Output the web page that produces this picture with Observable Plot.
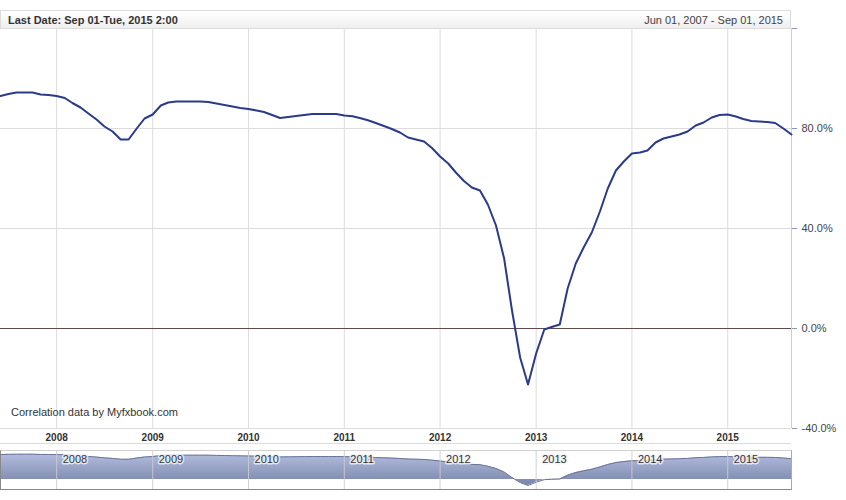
<!DOCTYPE html>
<html>
<head>
<meta charset="utf-8">
<script src="https://cdn.jsdelivr.net/npm/d3@7"></script>
<script src="https://cdn.jsdelivr.net/npm/@observablehq/plot@0.6"></script>
<style>
  html, body { margin: 0; padding: 0; background: #fff; }
  body { width: 846px; height: 500px; position: relative; overflow: hidden; font-family: "Liberation Sans", Arial, sans-serif; }
  .abs { position: absolute; }
  #header { left: 0; top: 10px; width: 791px; height: 19px; box-sizing: border-box; border: 1px solid #dcdcdc;
            background: linear-gradient(#ffffff, #efefef); font-size: 11px; color: #333; }
  #header .l { position: absolute; left: 7px; top: 3px; font-weight: bold; }
  #header .r { position: absolute; right: 7px; top: 3px; color: #444; }
  #caption { left: 11px; top: 406px; font-size: 11px; color: #333; }
  #navborder { left: 0; top: 450px; width: 792px; height: 40px; box-sizing: border-box;
               border-top: 1px solid #d0d0d0; border-left: 1px solid #888; border-bottom: 1px solid #888; border-right: 1px solid #aaa; pointer-events: none; }
</style>
</head>
<body>
<div id="header" class="abs"><span class="l">Last Date: Sep 01-Tue, 2015 2:00</span><span class="r">Jun 01, 2007 - Sep 01, 2015</span></div>
<div id="main" class="abs" style="left:0;top:28px"></div>
<div id="caption" class="abs">Correlation data by Myfxbook.com</div>
<div id="nav" class="abs" style="left:0;top:450px"></div>
<div id="navborder" class="abs"></div>
<script>
// ---- data ----
const startMonth = "2007-06-01";
const endMonth = "2015-09-01";
const correlation = [
  93.0, 93.8, 94.4, 94.4, 94.4, 93.6, 93.4, 93.0, 92.2, 90.2,
  88.4, 86.0, 83.6, 80.8, 78.8, 75.6, 75.6, 80.0, 84.0, 85.6,
  89.2, 90.4, 90.8, 90.8, 90.8, 90.8, 90.6, 90.0, 89.4, 88.8,
  88.2, 87.8, 87.2, 86.6, 85.4, 84.2, 84.6, 85.0, 85.4, 85.8,
  85.8, 85.8, 85.8, 85.2, 84.9, 84.2, 83.3, 82.2, 81.0, 79.8,
  78.4, 76.4, 75.6, 74.8, 72.2, 68.8, 66.0, 62.4, 59.0, 56.4,
  55.2, 49.6, 41.2, 28.0, 7.2, -11.6, -22.4, -10.0, -0.4, 0.6,
  1.6, 16.0, 26.0, 32.4, 38.4, 46.8, 56.0, 63.2, 66.8, 70.0,
  70.4, 71.2, 74.4, 76.0, 76.8, 77.6, 78.8, 81.2, 82.4, 84.4,
  85.4, 85.6, 84.8, 83.8, 83.0, 82.8, 82.6, 82.2, 80.0, 77.6
];
const yearLabels = [2008, 2009, 2010, 2011, 2012, 2013, 2014, 2015];
const yTicks = [120, 80, 40, 0, -40];

// ---- build tables ----
const start = new Date(startMonth + "T00:00:00Z");
const end = new Date(endMonth + "T00:00:00Z");
const data = correlation.map((v, i) => ({date: d3.utcMonth.offset(start, i), value: v}));
const years = yearLabels.map(y => new Date(Date.UTC(y, 0, 1)));
const fontFamily = "'Liberation Sans', Arial, sans-serif";

const main = Plot.plot({
  width: 846, height: 416,
  marginLeft: 0, marginRight: 55, marginTop: 0, marginBottom: 16,
  style: {fontFamily, fontSize: "11px", color: "#333", background: "transparent", overflow: "visible"},
  x: {type: "utc", domain: [start, end], axis: null},
  y: {domain: [-40, 120], axis: null},
  marks: [
    Plot.ruleX(years, {stroke: "#dcdcdc"}),
    Plot.ruleY([80, 40], {stroke: "#dcdcdc"}),
    Plot.ruleY([-40], {stroke: "#dcdcdc"}),
    Plot.ruleY([-40], {stroke: "#dcdcdc", dy: 15}),
    Plot.ruleX([end], {stroke: "#cfcfcf", y1: -40, y2: 120}),
    Plot.ruleY([0], {stroke: "#634a4a", strokeWidth: 1}),
    Plot.line(data, {x: "date", y: "value", stroke: "#2b3b88", strokeWidth: 2, curve: "linear"}),
    Plot.axisX(years, {anchor: "bottom", label: null, tickSize: 0, tickPadding: 5, tickFormat: d3.utcFormat("%Y"),
      fontWeight: "bold", fontSize: 10, fill: "#333"}),
    Plot.axisY(yTicks, {anchor: "right", label: null, tickSize: 5, tickPadding: 5, stroke: "#8898b8",
      tickFormat: d => d === 120 ? "" : d.toFixed(1) + "%", fontSize: 11, fill: "#444"})
  ]
});
document.getElementById("main").append(main);

const nav = Plot.plot({
  width: 846, height: 40,
  marginLeft: 0, marginRight: 55, marginTop: 0, marginBottom: 0,
  style: {fontFamily, fontSize: "11px", color: "#333", background: "transparent", overflow: "visible"},
  x: {type: "utc", domain: [start, end], axis: null},
  y: {domain: [-41, 108.2], axis: null},
  marks: [
    () => {
      const defs = d3.create("svg:defs");
      const g = defs.append("linearGradient").attr("id", "navgrad").attr("x1", 0).attr("x2", 0).attr("y1", 0).attr("y2", 1);
      g.append("stop").attr("offset", "0%").attr("stop-color", "#b2bcdf");
      g.append("stop").attr("offset", "100%").attr("stop-color", "#7885a9");
      return defs.node();
    },
    Plot.areaY(data, {x: "date", y: "value", fill: "url(#navgrad)"}),
    Plot.lineY(data, {x: "date", y: "value", stroke: "#6b7598", strokeWidth: 1}),
    Plot.ruleX(years, {stroke: "#cccccc", strokeOpacity: 0.9}),
    Plot.text(years, {x: d => d, text: d3.utcFormat("%Y"), frameAnchor: "top", lineAnchor: "bottom",
      dy: 12, dx: 6, textAnchor: "start", fill: "#333", fontSize: 11,
      stroke: "rgba(240,242,248,0.85)", strokeWidth: 3, paintOrder: "stroke"})
  ]
});
document.getElementById("nav").append(nav);
</script>
</body>
</html>
